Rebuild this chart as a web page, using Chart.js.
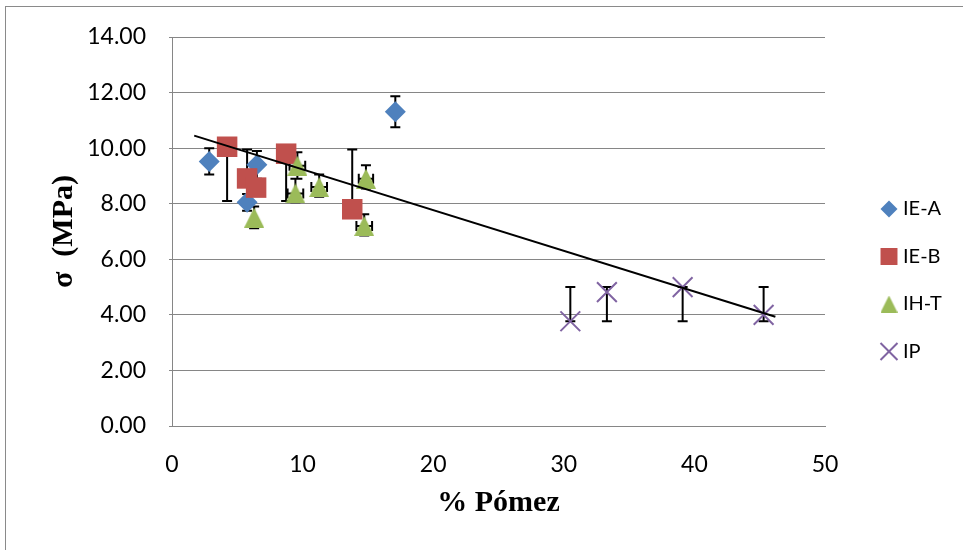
<!DOCTYPE html>
<html lang="es">
<head>
<meta charset="UTF-8">
<title>σ vs % Pómez</title>
<script src="https://cdn.jsdelivr.net/npm/chart.js"></script>
<style>
  html, body { margin: 0; padding: 0; background: #fff; }
  #wrap { width: 963px; height: 550px; }
</style>
</head>
<body>
<div id="wrap"><canvas id="chart" width="963" height="550"></canvas></div>
<script>
// % pómez (x) and σ in MPa (y) per mix, with the error bar limits
const ieaX = [2.85, 6.5, 5.75, 17.1];
const ieaY = [9.52, 9.4, 8.05, 11.31];
const ieaLow = [9.05, 8.9, 7.75, 10.75];
const ieaHigh = [10.0, 9.9, 8.35, 11.87];

const iebX = [4.22, 5.75, 6.44, 8.74, 13.8];
const iebY = [10.05, 8.91, 8.58, 9.8, 7.8];
const iebLow = [8.1, 8.1, 8.58, 8.1, 7.8];
const iebHigh = [10.05, 9.95, 8.58, 9.8, 9.95];

const ihtX = [6.29, 9.6, 9.45, 11.27, 14.85, 14.72];
const ihtY = [7.5, 9.37, 8.37, 8.6, 8.9, 7.2];
const ihtLow = [7.12, 8.9, 8.05, 8.25, 8.55, 6.86];
const ihtHigh = [7.9, 9.85, 8.9, 9.05, 9.38, 7.62];
const ihtXErr = [0, 0.6, 0.6, 0.6, 0.55, 0.6];

const ipX = [30.5, 33.3, 39.1, 45.3];
const ipY = [3.77, 4.82, 5.0, 4.0];
const ipLow = [3.77, 3.77, 3.77, 3.77];
const ipHigh = [5.0, 5.0, 5.0, 5.0];

// linear trend over all the mixes
const trendX = [1.7, 46.2];
const trendY = [10.45, 3.93];

const seriesNames = ['IE-A', 'IE-B', 'IH-T', 'IP'];
const xTicks = [0, 10, 20, 30, 40, 50];
const yTicks = [0, 2, 4, 6, 8, 10, 12, 14];

const BLUE = '#4F81BD', RED = '#C0504D', GREEN = '#9BBB59', PURPLE = '#8064A2';
const GRID = '#868686';

function points(xs, ys) {
  return xs.map((x, i) => ({ x: x, y: ys[i] }));
}

// excel style triangle: as wide as it is tall, centred on the point
function triangleMark(size, color) {
  const c = document.createElement('canvas');
  c.width = size; c.height = size;
  const g = c.getContext('2d');
  g.fillStyle = color;
  g.beginPath();
  g.moveTo(size / 2, 0);
  g.lineTo(size, size);
  g.lineTo(0, size);
  g.closePath();
  g.fill();
  return c;
}

// white page with the thin grey frame round it
const frame = {
  id: 'frame',
  beforeDraw(chart) {
    const ctx = chart.ctx;
    ctx.save();
    ctx.fillStyle = '#fff';
    ctx.fillRect(0, 0, chart.width, chart.height);
    ctx.strokeStyle = '#8a8a8a';
    ctx.lineWidth = 1;
    ctx.strokeRect(5.5, 6.5, chart.width + 20, chart.height + 20);
    ctx.restore();
  }
};

// vertical (and, for IH-T, horizontal) error bars with caps
const errorBars = {
  id: 'errorBars',
  beforeDatasetsDraw(chart) {
    const { ctx, scales: { x, y } } = chart;
    const cap = 5;
    ctx.save();
    ctx.strokeStyle = '#000';
    ctx.lineWidth = 2;
    ctx.beginPath();
    chart.data.datasets.forEach(ds => {
      if (!ds.errLow) return;
      ds.data.forEach((p, i) => {
        const px = x.getPixelForValue(p.x);
        const py = y.getPixelForValue(p.y);
        const top = y.getPixelForValue(ds.errHigh[i]);
        const bot = y.getPixelForValue(ds.errLow[i]);
        if (bot - top > 0.5) {
          ctx.moveTo(px, top); ctx.lineTo(px, bot);
          ctx.moveTo(px - cap, top); ctx.lineTo(px + cap, top);
          ctx.moveTo(px - cap, bot); ctx.lineTo(px + cap, bot);
        }
        if (ds.xErr && ds.xErr[i]) {
          const l = x.getPixelForValue(p.x - ds.xErr[i]);
          const r = x.getPixelForValue(p.x + ds.xErr[i]);
          ctx.moveTo(l, py); ctx.lineTo(r, py);
          ctx.moveTo(l, py - cap); ctx.lineTo(l, py + cap);
          ctx.moveTo(r, py - cap); ctx.lineTo(r, py + cap);
        }
      });
    });
    ctx.stroke();
    ctx.restore();
  }
};

// legend column on the right
const sideLegend = {
  id: 'sideLegend',
  afterDraw(chart) {
    const ctx = chart.ctx;
    const markX = 889, textX = 903, startY = 209, step = 47.5;
    ctx.save();
    ctx.font = '20px Lato';
    ctx.textBaseline = 'middle';
    ctx.textAlign = 'left';
    chart.data.datasets.filter(ds => ds.legendMark).forEach((ds, i) => {
      const yy = startY + i * step;
      const m = ds.legendMark;
      ctx.fillStyle = ds.backgroundColor;
      ctx.strokeStyle = ds.borderColor;
      ctx.lineWidth = ds.borderWidth;
      Chart.helpers.drawPoint(ctx, {
        pointStyle: m.style, radius: m.radius, rotation: 0, borderWidth: ds.borderWidth
      }, markX, yy);
      ctx.fillStyle = '#000';
      ctx.fillText(ds.label, textX, yy);
    });
    ctx.restore();
  }
};

const datasets = [
  {
    label: seriesNames[0], data: points(ieaX, ieaY), errLow: ieaLow, errHigh: ieaHigh,
    pointStyle: 'rectRot', pointRadius: 10.5, backgroundColor: BLUE, borderColor: BLUE, borderWidth: 0,
    legendMark: { style: 'rectRot', radius: 8.5 }, order: 4
  },
  {
    label: seriesNames[1], data: points(iebX, iebY), errLow: iebLow, errHigh: iebHigh,
    pointStyle: 'rect', pointRadius: 14.5, backgroundColor: RED, borderColor: RED, borderWidth: 0,
    legendMark: { style: 'rect', radius: 12 }, order: 3
  },
  {
    label: seriesNames[2], data: points(ihtX, ihtY), errLow: ihtLow, errHigh: ihtHigh, xErr: ihtXErr,
    pointStyle: triangleMark(20, GREEN), pointRadius: 10, backgroundColor: GREEN, borderColor: GREEN, borderWidth: 0,
    legendMark: { style: triangleMark(17, GREEN), radius: 8.5 }, order: 2
  },
  {
    label: seriesNames[3], data: points(ipX, ipY), errLow: ipLow, errHigh: ipHigh,
    pointStyle: 'crossRot', pointRadius: 14, backgroundColor: PURPLE, borderColor: PURPLE, borderWidth: 2,
    legendMark: { style: 'crossRot', radius: 12 }, order: 1
  },
  {
    type: 'line', label: 'tendencia', data: points(trendX, trendY),
    borderColor: '#000', borderWidth: 2, pointRadius: 0, showLine: true, fill: false, order: 0
  }
];

new Chart(document.getElementById('chart'), {
  type: 'scatter',
  data: { datasets: datasets },
  options: {
    responsive: false,
    animation: false,
    devicePixelRatio: 1,
    layout: { padding: { top: 37, right: 138, left: 0, bottom: 0 } },
    plugins: { legend: { display: false }, tooltip: { enabled: false } },
    scales: {
      x: {
        type: 'linear', min: 0, max: 50,
        afterFit: s => { s.height = 124; },
        afterBuildTicks: s => { s.ticks = xTicks.map(v => ({ value: v })); },
        grid: { drawOnChartArea: false, drawTicks: false, color: GRID },
        border: { color: GRID, width: 1 },
        ticks: { color: '#000', font: { family: 'Lato', size: 23 }, padding: 25, maxRotation: 0 },
        title: {
          display: true, text: '% Pómez', color: '#000',
          font: { family: 'Liberation Serif', size: 30, weight: 'bold' },
          padding: { top: 0, bottom: 29 }
        }
      },
      y: {
        type: 'linear', min: 0, max: 14,
        afterFit: s => { s.width = 172; },
        afterBuildTicks: s => { s.ticks = yTicks.map(v => ({ value: v })); },
        grid: { color: GRID, lineWidth: 1, tickLength: 3 },
        border: { color: GRID, width: 1 },
        ticks: { color: '#000', font: { family: 'Lato', size: 23 }, padding: 23, callback: v => v.toFixed(2) },
        title: {
          display: true, text: 'σ  (MPa)', color: '#000',
          font: { family: 'Liberation Serif', size: 30, weight: 'bold' },
          padding: { top: 46, bottom: 0 }
        }
      }
    }
  },
  plugins: [frame, errorBars, sideLegend]
});
</script>
</body>
</html>
